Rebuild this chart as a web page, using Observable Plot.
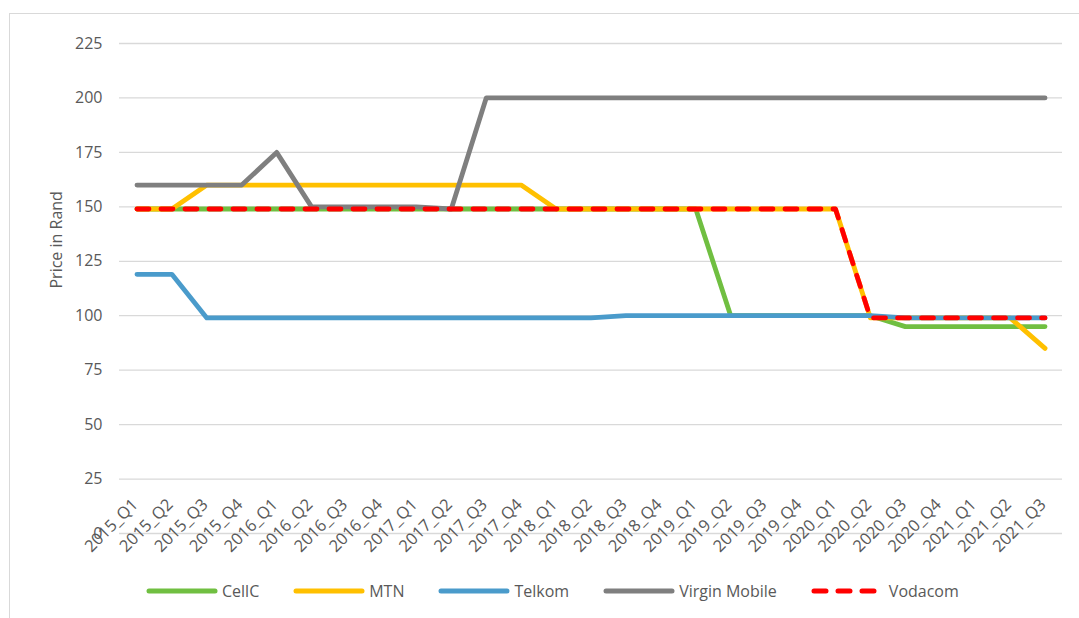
<!DOCTYPE html>
<html><head><meta charset="utf-8">
<script src="https://cdn.jsdelivr.net/npm/d3@7"></script>
<script src="https://cdn.jsdelivr.net/npm/@observablehq/plot@0.6"></script>
<style>
html,body{margin:0;padding:0;background:#fff;overflow:hidden;}
body{width:1079px;height:618px;position:relative;font-family:"Open Sans",sans-serif;}
#frame{position:absolute;left:9px;top:13px;width:1200px;height:800px;border:1px solid #d9d9d9;}
#chart{position:absolute;left:0;top:0;}
#legend{position:absolute;left:146px;top:578px;height:26px;display:flex;align-items:center;font-size:16px;color:#595959;white-space:nowrap;}
.item{display:flex;align-items:center;margin-right:34px;}
.item svg{display:block;margin-right:4px;}
</style></head>
<body>
<div id="frame"></div>
<div id="chart"></div>
<div id="legend"></div>
<script>
const quarters = ["2015_Q1","2015_Q2","2015_Q3","2015_Q4","2016_Q1","2016_Q2","2016_Q3","2016_Q4",
  "2017_Q1","2017_Q2","2017_Q3","2017_Q4","2018_Q1","2018_Q2","2018_Q3","2018_Q4",
  "2019_Q1","2019_Q2","2019_Q3","2019_Q4","2020_Q1","2020_Q2","2020_Q3","2020_Q4",
  "2021_Q1","2021_Q2","2021_Q3"];
const cellC   = [149,149,149,149,149,149,149,149,149,149,149,149,149,149,149,149,149,100,100,100,100,100,95,95,95,95,95];
const mtn     = [149,149,160,160,160,160,160,160,160,160,160,160,149,149,149,149,149,149,149,149,149,99,99,99,99,99,85];
const telkom  = [119,119,99,99,99,99,99,99,99,99,99,99,99,99,100,100,100,100,100,100,100,100,99,99,99,99,99];
const virgin  = [160,160,160,160,175,150,150,150,150,149,200,200,200,200,200,200,200,200,200,200,200,200,200,200,200,200,200];
const vodacom = [149,149,149,149,149,149,149,149,149,149,149,149,149,149,149,149,149,149,149,149,149,99,99,99,99,99,99];
const seriesNames = ["CellC","MTN","Telkom","Virgin Mobile","Vodacom"];
const seriesColors = ["#70BF41","#FFC000","#4A9BCB","#7F7F7F","#FF0000"];
const yTicks = [0,25,50,75,100,125,150,175,200,225];
const yTitle = "Price in Rand";

const seriesValues = [cellC, mtn, telkom, virgin, vodacom];
const series = seriesNames.map((name,i)=>({name, color:seriesColors[i], dashed: name==="Vodacom",
  rows: seriesValues[i].map((v,j)=>({q:quarters[j], v}))}));

const lineMarks = series.map(s => Plot.line(s.rows, {
  x:"q", y:"v", stroke:s.color, strokeWidth:4.8,
  strokeLinecap:"round", strokeLinejoin:"round",
  strokeDasharray: s.dashed ? "12,12" : null
}));

const chart = Plot.plot({
  width:1079, height:565,
  marginLeft:119, marginRight:17, marginTop:43, marginBottom:32,
  x:{type:"point", domain:quarters, padding:0.5, round:false, axis:null},
  y:{domain:[0,225], axis:null},
  style:{fontFamily:"'Open Sans',sans-serif", fontSize:"16px", color:"#595959", background:"transparent", overflow:"visible"},
  marks:[
    Plot.gridY(yTicks, {stroke:"#d9d9d9", strokeOpacity:1, strokeWidth:1.3}),
    Plot.axisY(yTicks, {tickSize:0, tickPadding:17, label:null, fill:"#595959", fontSize:16}),
    Plot.text(quarters, {x:d=>d, frameAnchor:"bottom", dy:-28, dx:2, rotate:-45, textAnchor:"end", fill:"#595959", fontSize:16.5}),
    Plot.text([yTitle], {frameAnchor:"left", dx:-63, rotate:-90, fill:"#595959", fontSize:16}),
    ...lineMarks
  ]
});
document.getElementById("chart").appendChild(chart);

const legend = document.getElementById("legend");
series.forEach(s=>{
  const item = document.createElement("div");
  item.className = "item";
  const dash = s.dashed ? `stroke-dasharray="12,12"` : "";
  item.innerHTML = `<svg width="72" height="10"><line x1="3" y1="5" x2="${s.dashed?66:69}" y2="5" stroke="${s.color}" stroke-width="5" stroke-linecap="round" ${dash}/></svg><span>${s.name}</span>`;
  if (s.dashed) item.querySelector("svg").style.marginRight = "6px";
  legend.appendChild(item);
});
</script>
</body></html>
